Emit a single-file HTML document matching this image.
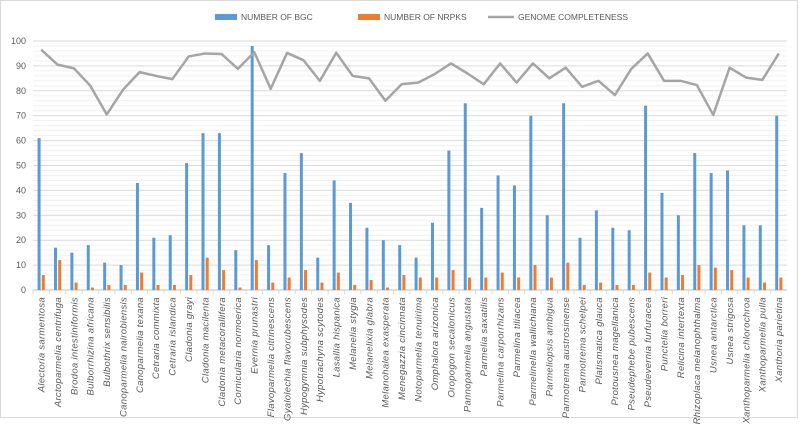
<!DOCTYPE html>
<html><head><meta charset="utf-8"><style>
html,body{margin:0;padding:0;background:#fff;}
svg{display:block;font-family:"Liberation Sans",sans-serif;}
</style></head><body>
<svg id="chart" width="800" height="424" xmlns="http://www.w3.org/2000/svg">
<rect x="0.5" y="0.5" width="797" height="417" fill="#fff" stroke="#d9d9d9"/>
<g id="grid"></g><g id="yaxis"></g><g id="bars"></g><g id="line"></g><g id="xaxis"></g>
<g font-size="8.5" fill="#595959">
 <g><rect x="215" y="14" width="22" height="6" fill="#5b9bd5"/><text x="241" y="20">NUMBER OF BGC</text></g>
 <g><rect x="358" y="14" width="22" height="6" fill="#ed7d31"/><text x="384" y="20">NUMBER OF NRPKS</text></g>
 <g><line x1="488" y1="17" x2="514" y2="17" stroke="#a5a5a5" stroke-width="2.5"/><text x="518" y="20">GENOME COMPLETENESS</text></g>
</g>
</svg>
<script>
const categories=["Alectoria sarmentosa","Arctoparmelia centrifuga","Brodoa intestiniformis","Bulborrhizina africana","Bulbothrix sensibilis","Canoparmelia nairobiensis","Canoparmelia texana","Cetraria commixta","Cetraria islandica","Cladonia grayi","Cladonia macilenta","Cladonia metacorallifera","Cornicularia normoerica","Evernia prunastri","Flavoparmelia citrinescens","Gyalolechia flavorubescens","Hypogymnia subphysodes","Hypotrachyna scytodes","Lasallia hispanica","Melanelia stygia","Melanelixia glabra","Melanohalea exasperata","Menegazzia cincinnata","Notoparmelia tenuirima","Omphalora arizonica","Oropogon secalonicus","Pannoparmelia angustata","Parmelia saxatilis","Parmelina carporrhizans","Parmelina tiliacea","Parmelinella wallichiana","Parmeliopsis ambigua","Parmotrema austrosinense","Parmotrema schelpei","Platismatica glauca","Protousnea magellanica","Pseudephebe pubescens","Pseudevernia furfuracea","Punctelia borreri","Relicina intertexta","Rhizoplaca melanophthalma","Usnea antarctica","Usnea strigosa","Xanthoparmelia chlorochroa","Xanthoparmelia pulla","Xanthoria parietina"];
const bgc=[61,17,15,18,11,10,43,21,22,51,63,63,16,98,18,47,55,13,44,35,25,20,18,13,27,56,75,33,46,42,70,30,75,21,32,25,24,74,39,30,55,47,48,26,26,70];
const nrpks=[6,12,3,1,2,2,7,2,2,6,13,8,1,12,3,5,8,3,7,2,4,1,6,5,5,8,5,5,7,5,10,5,11,2,3,2,2,7,5,6,10,9,8,5,3,5];
const completeness=[96.5,90.5,89,82,70.5,80.5,87.5,86,84.7,93.8,95,94.8,88.8,95.5,80.8,95.2,92.3,84,95.3,86,85,76,82.7,83.3,86.7,91,87,82.6,91,83.3,91,85,89.3,81.6,84,78.3,88.8,95,84,84,82.3,70.3,89.3,85.3,84.4,95];
const yTicks=[0,10,20,30,40,50,60,70,80,90,100];
const NS="http://www.w3.org/2000/svg";
const X0=33,X1=787,Y0=290,Y1=41;
const bw=(X1-X0)/categories.length;
const xc=i=>X0+bw*(i+0.5);
const y=v=>Y0-(v/100)*(Y0-Y1);
function mk(tag,attrs,parent){const e=document.createElementNS(NS,tag);for(const k in attrs)e.setAttribute(k,attrs[k]);parent.appendChild(e);return e;}
const grid=document.getElementById('grid'),yax=document.getElementById('yaxis'),bars=document.getElementById('bars'),lineG=document.getElementById('line'),xax=document.getElementById('xaxis');
for(let v=0;v<=100;v+=2){if(v%10)mk('line',{x1:X0,x2:X1,y1:y(v),y2:y(v),stroke:'#f0f0f0','stroke-width':1},grid);}
yTicks.forEach(t=>{
 const g=mk('line',{x1:X0,x2:X1,y1:y(t),y2:y(t),stroke:t===0?'#bfbfbf':'#d9d9d9','stroke-width':1},grid);
 
 
 const tx=mk('text',{x:26,y:y(t)+3,'text-anchor':'end','font-size':'9',fill:'#595959'},yax);
 tx.textContent=t;
 
 
});
categories.forEach((c,i)=>{
 const b=mk('rect',{x:xc(i)-3.6,y:y(bgc[i]),width:3,height:Y0-y(bgc[i]),fill:'#5b9bd5'},bars);
 
 
 const o=mk('rect',{x:xc(i)+0.6,y:y(nrpks[i]),width:3,height:Y0-y(nrpks[i]),fill:'#ed7d31'},bars);
 
 
 const tk=mk('line',{x1:X0+bw*i,x2:X0+bw*i,y1:Y0,y2:Y0+4,stroke:'#d9d9d9'},xax);
 
 
 const t=mk('text',{transform:`translate(${xc(i)+3.3},297) rotate(-90)`,'text-anchor':'end','font-size':'9.5','letter-spacing':'0.3','font-style':'italic',fill:'#595959'},xax);
 t.textContent=c;
 
 
});
const pts=completeness.map((v,i)=>xc(i)+','+y(v)).join(' ');
const pl=mk('polyline',{points:pts,fill:'none',stroke:'#a5a5a5','stroke-width':2.5,'stroke-linejoin':'round'},lineG);


</script>
</body></html>
